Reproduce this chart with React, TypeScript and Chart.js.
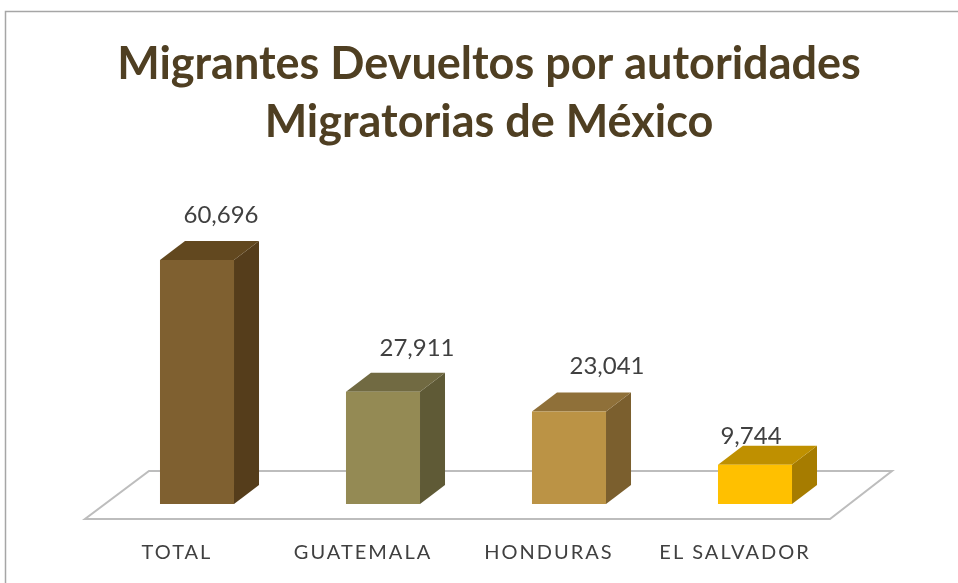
import React, { useEffect, useRef } from "react";
import { Chart, registerables } from "chart.js";

Chart.register(...registerables);

const categories = ["TOTAL", "GUATEMALA", "HONDURAS", "EL SALVADOR"];
const values = [60696, 27911, 23041, 9744];
const titleLines = ["Migrantes Devueltos por autoridades", "Migratorias de México"];
const frontColors = ["#7f6030", "#948a54", "#bb9345", "#ffc000"];
const sideColors = ["#553d1b", "#5f5a36", "#7b5f2e", "#a67c00"];
const topColors = ["#62481f", "#716a42", "#8f7039", "#bf9000"];
const labelShiftX = [24, 34, 38, -4];
const labelShiftY = [-45, -44, -45, -29];

const DEPTH_X = 25;
const DEPTH_Y = 19;

const fmt = (v: number) => v.toLocaleString("en-US");

const poly = (ctx: CanvasRenderingContext2D, pts: number[][], fill: string) => {
  ctx.beginPath();
  pts.forEach(([x, y], i) => (i ? ctx.lineTo(x, y) : ctx.moveTo(x, y)));
  ctx.closePath();
  ctx.fillStyle = fill;
  ctx.fill();
};

const scene3d = {
  id: "scene3d",
  afterLayout(chart: any) {
    // the title's centre sits right of the plot's centre in the reference
    chart.titleBlock.left += 13;
    chart.titleBlock.right += 13;
  },
  beforeDraw(chart: any) {
    const { ctx, width, height } = chart;
    ctx.save();
    ctx.fillStyle = "#ffffff";
    ctx.fillRect(0, 0, width, height);
    ctx.strokeStyle = "#a6a6a6";
    ctx.lineWidth = 1.5;
    ctx.strokeRect(5.5, 11.5, width + 20, height + 20);
    ctx.restore();
  },
  beforeDatasetsDraw(chart: any) {
    const { ctx, chartArea } = chart;
    const { left, right, bottom } = chartArea;
    ctx.save();
    ctx.beginPath();
    ctx.moveTo(left - 19, bottom + 15);
    ctx.lineTo(right - 18, bottom + 15);
    ctx.lineTo(right + 44, bottom - 33);
    ctx.lineTo(left + 45, bottom - 33);
    ctx.closePath();
    ctx.strokeStyle = "#bdbdbd";
    ctx.lineWidth = 2;
    ctx.stroke();
    chart.getDatasetMeta(0).data.forEach((bar: any, i: number) => {
      const half = bar.width / 2;
      const l = bar.x - half;
      const r = bar.x + half;
      const t = bar.y;
      const b = bar.base;
      poly(ctx, [[r, t], [r + DEPTH_X, t - DEPTH_Y], [r + DEPTH_X, b - DEPTH_Y], [r, b]], sideColors[i]);
      poly(ctx, [[l, t], [l + DEPTH_X, t - DEPTH_Y], [r + DEPTH_X, t - DEPTH_Y], [r, t]], topColors[i]);
    });
    ctx.restore();
  },
  afterDatasetsDraw(chart: any) {
    const { ctx } = chart;
    ctx.save();
    ctx.font = "24px Lato";
    ctx.fillStyle = "#404040";
    ctx.textAlign = "center";
    ctx.textBaseline = "middle";
    chart.getDatasetMeta(0).data.forEach((bar: any, i: number) => {
      ctx.fillText(fmt(values[i]), bar.x + labelShiftX[i], bar.y + labelShiftY[i]);
    });
    ctx.restore();
    // the category labels are drawn next (ticks.z = 1) and are widely spaced in the reference
    ctx.letterSpacing = "2px";
  },
  afterDraw(chart: any) {
    chart.ctx.letterSpacing = "0px";
  },
};

export default function App() {
  const ref = useRef<HTMLCanvasElement>(null);
  useEffect(() => {
    document.body.style.margin = "0";
    const chart = new Chart(ref.current!, {
      type: "bar",
      data: {
        labels: categories,
        datasets: [
          {
            data: values,
            backgroundColor: frontColors,
            barPercentage: 0.398,
            categoryPercentage: 1,
          },
        ],
      },
      options: {
        animation: false,
        responsive: false,
        devicePixelRatio: 1,
        layout: { padding: { left: 104, right: 110, top: 0, bottom: 18 } },
        plugins: {
          legend: { display: false },
          tooltip: { enabled: false },
          title: {
            display: true,
            text: titleLines,
            color: "#4f3f22",
            font: { family: "Lato", weight: "bold", size: 45, lineHeight: 1.29 },
            padding: { top: 35, bottom: 29 },
          },
        },
        scales: {
          x: {
            grid: { display: false, tickLength: 37 },
            border: { display: false },
            ticks: {
              color: "#404040",
              font: { family: "Lato", size: 20 },
              padding: 0,
              labelOffset: -20,
              maxRotation: 0,
              z: 1,
            },
          },
          y: {
            display: false,
            min: 0,
            max: 80600,
          },
        },
      },
      plugins: [scene3d],
    });
    return () => chart.destroy();
  }, []);
  return <canvas ref={ref} width={958} height={583} style={{ display: "block" }} />;
}
